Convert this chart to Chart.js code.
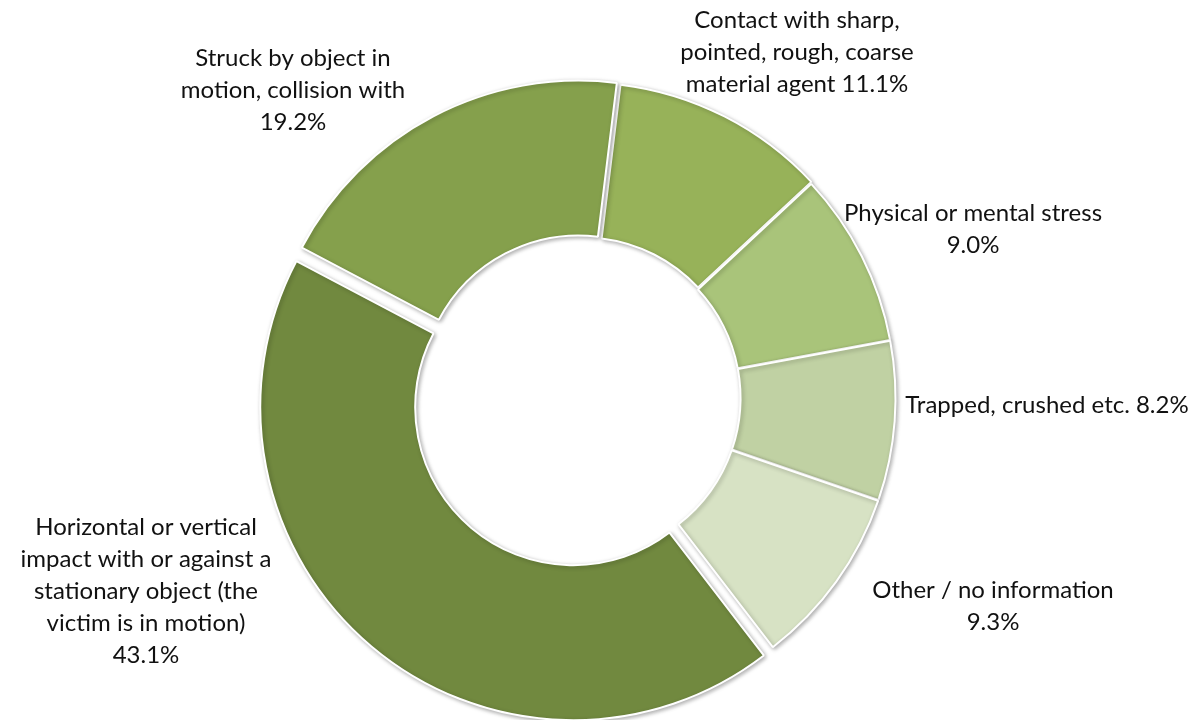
<!DOCTYPE html>
<html>
<head>
<meta charset="utf-8">
<script src="https://cdn.jsdelivr.net/npm/chart.js@4.4.0/dist/chart.umd.min.js"></script>
<style>
  body { margin: 0; background: #fff; }
  #caja { width: 1199px; height: 720px; position: relative; }
</style>
</head>
<body>
<div id="caja"><canvas id="graf"></canvas></div>
<script>
// datos
const categorias = [
  'Contact with sharp, pointed, rough, coarse material agent',
  'Physical or mental stress',
  'Trapped, crushed etc.',
  'Other / no information',
  'Horizontal or vertical impact with or against a stationary object (the victim is in motion)',
  'Struck by object in motion, collision with'
];
const valores = [11.1, 9.0, 8.2, 9.3, 43.1, 19.2];
const lineasEtiqueta = [
  ['Contact with sharp,', 'pointed, rough, coarse', 'material agent {v}'],
  ['Physical or mental stress', '{v}'],
  ['Trapped, crushed etc. {v}'],
  ['Other / no information', '{v}'],
  ['Horizontal or vertical', 'impact with or against a', 'stationary object (the', 'victim is in motion)', '{v}'],
  ['Struck by object in', 'motion, collision with', '{v}']
];

// estilo
const colores = ['#97B259', '#A9C47A', '#C0D1A3', '#D7E2C4', '#71893F', '#85A04C'];
// desplazamiento de cada porcion hacia afuera (px)
const explosion = [3, 1.5, 1.5, 1.5, 12, 5];
// centro de cada bloque de texto, relativo al centro del anillo
const posEtiqueta = [[216, -346], [392, -169], [466, 7], [412, 208], [-435, 193], [-288, -308]];

// dibuja las porciones separadas y con sombra
const porciones = {
  id: 'porciones',
  beforeDatasetDraw(chart, args) {
    const ctx = chart.ctx;
    ctx.save();
    ctx.shadowColor = 'rgba(0,0,0,0.3)';
    ctx.shadowBlur = 4;
    ctx.shadowOffsetX = 1.5;
    ctx.shadowOffsetY = 1.5;
    args.meta.data.forEach(function(arco, i) {
      const medio = (arco.startAngle + arco.endAngle) / 2;
      ctx.save();
      ctx.translate(Math.cos(medio) * explosion[i], Math.sin(medio) * explosion[i]);
      arco.draw(ctx);
      ctx.restore();
    });
    ctx.restore();
    return false;
  }
};

const etiquetas = {
  id: 'etiquetas',
  afterDraw(chart) {
    const ctx = chart.ctx;
    const arco = chart.getDatasetMeta(0).data[0];
    const cx = arco.x, cy = arco.y;
    const alto = 32;
    ctx.save();
    ctx.font = '24px Lato';
    ctx.fillStyle = '#111';
    ctx.textAlign = 'center';
    ctx.textBaseline = 'middle';
    lineasEtiqueta.forEach(function(lineas, i) {
      const texto = valores[i].toFixed(1) + '%';
      const x = cx + posEtiqueta[i][0];
      const y0 = cy + posEtiqueta[i][1] - (lineas.length - 1) * alto / 2;
      lineas.forEach(function(l, j) {
        ctx.fillText(l.replace('{v}', texto), x, y0 + j * alto);
      });
    });
    ctx.restore();
  }
};

let ctx = document.getElementById('graf').getContext('2d');
let graf = new Chart(ctx, {
  type: 'doughnut',
  data: {
    labels: categorias,
    datasets: [{
      data: valores,
      backgroundColor: colores,
      borderColor: '#ffffff',
      borderWidth: 2
    }]
  },
  options: {
    responsive: true,
    maintainAspectRatio: false,
    animation: false,
    rotation: 7,
    radius: 313,
    cutout: '50.5%',
    layout: { padding: { left: 0, right: 37, top: 76, bottom: 0 } },
    events: [],
    plugins: {
      legend: { display: false },
      tooltip: { enabled: false }
    }
  },
  plugins: [porciones, etiquetas]
});
</script>
</body>
</html>
